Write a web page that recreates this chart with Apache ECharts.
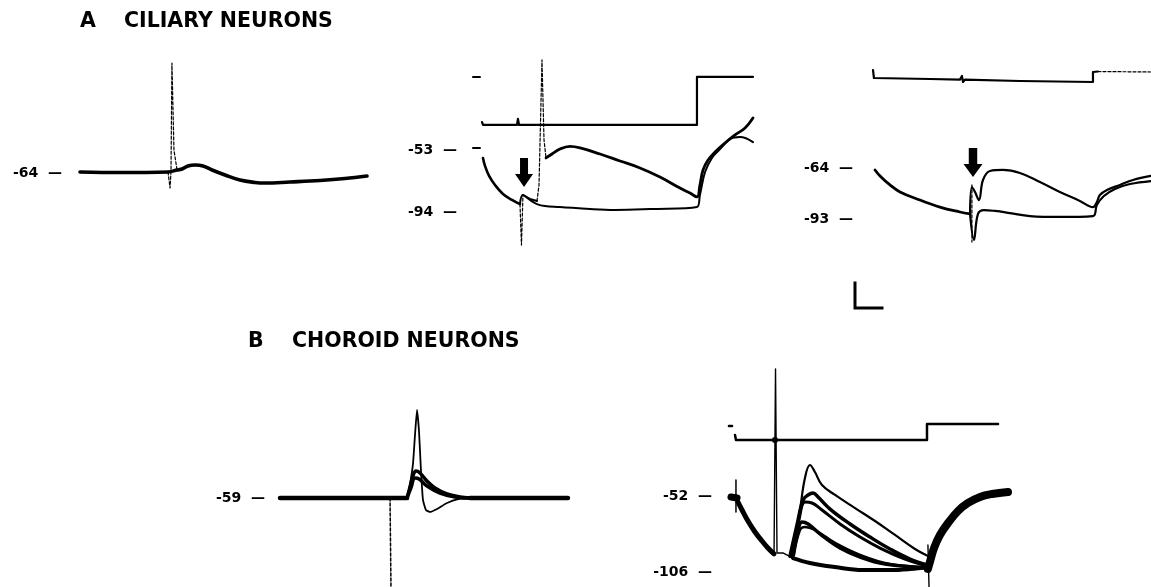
<!DOCTYPE html>
<html><head><meta charset="utf-8">
<script src="https://cdn.jsdelivr.net/npm/echarts@6/dist/echarts.min.js"></script>
<style>html,body{margin:0;padding:0;background:#fff}#c{width:1151px;height:587px}</style>
</head><body><div id="c"></div>
<script>
// ---- Titles and voltage labels ----
const titleTexts = ['A', 'CILIARY NEURONS', 'B', 'CHOROID NEURONS'];
const a1Ticks = [-64];
const a2Ticks = [-53, -94];
const a3Ticks = [-64, -93];
const b1Ticks = [-59];
const b2Ticks = [-52, -106];

// ---- A1 ciliary neuron (ms, mV) ----
const a1Trace = [[0,-63.3],[29.6,-63.7],[65.2,-63.3],[71.9,-62.0],[75.6,-61.3],[80.0,-59.3],[85.2,-58.7],[91.1,-59.3],[97.8,-62.0],[107.4,-65.3],[118.5,-68.7],[129.6,-70.3],[137.0,-70.7],[155.6,-70.0],[177.8,-69.0],[196.3,-67.7],[212.6,-66.0]];
const a1Spike = [[65.2,-63.3],[66.7,-74.0],[67.4,-63.3],[68.1,9.3],[69.6,-48.7],[71.9,-62.0]];

// ---- A2 (ms, mV) and current (nA) ----
const a2MarkV = [[0,-51.4],[5.2,-51.4]];
const a2Early = [[7.4,-58.0],[8.9,-63.3],[11.9,-69.9],[16.3,-75.9],[22.2,-81.8],[28.9,-85.8],[34.8,-88.5]];
const a2Artifact = [[34.8,-88.5],[35.9,-115.6],[37.0,-82.5]];
const a2Sweep1 = [[34.8,-88.5],[37.0,-82.5],[42.2,-85.8],[47.4,-88.5],[53.3,-89.8],[64.4,-90.4],[86.7,-91.8],[105.2,-92.4],[131.1,-91.8],[165.9,-90.4],[168.1,-82.5],[171.9,-67.3],[177.0,-58.0],[183.0,-52.1],[190.4,-45.5],[197.8,-44.1],[207.4,-47.5]];
const a2Sweep2Pre = [[37.0,-82.5],[42.2,-85.1],[47.4,-86.5]];
const a2Spike = [[47.4,-86.5],[48.9,-75.9],[50.4,-19.7],[51.1,6.8],[52.6,-46.1],[54.1,-58.0]];
const a2Sweep2 = [[54.1,-58.0],[58.5,-55.4],[64.4,-52.1],[71.9,-50.4],[79.3,-51.4],[94.1,-55.4],[108.9,-60.0],[123.7,-64.6],[138.5,-70.6],[153.3,-77.9],[160.7,-81.2],[165.9,-83.8],[168.1,-75.9],[170.4,-66.0],[174.1,-59.4],[179.3,-54.1],[186.7,-48.1],[194.1,-42.8],[201.5,-38.2],[207.4,-31.6]];
const a2MarkI = [[0,0],[5.2,0]];
const a2Current = [[6.7,-0.94],[7.4,-1],[32.6,-1],[33.3,-0.875],[34.1,-1],[165.9,-1],[165.9,0],[207.4,0]];
const a2Arrow = [[37.8,-67.6]];

// ---- A3 (ms, mV) and current (nA) ----
const a3Decay = [[1.5,-64.9],[5.2,-68.3],[12.6,-73.4],[20.0,-77.4],[34.8,-82.0],[49.6,-86.0],[64.4,-88.8],[71.9,-89.9]];
const a3SweepA = [[71.9,-89.9],[73.3,-74.6],[75.6,-77.4],[78.5,-82.0],[81.5,-70.6],[86.7,-65.5],[96.3,-64.9],[108.9,-66.6],[123.7,-71.7],[138.5,-77.4],[153.3,-82.5],[163.0,-86.0],[165.9,-83.1],[168.1,-79.1],[173.3,-76.3],[183.0,-73.4],[192.6,-70.6],[205.9,-68.3]];
const a3Artifact = [[73.3,-73.4],[73.3,-105.9]];
const a3SweepB = [[71.9,-89.9],[74.8,-104.7],[77.8,-89.9],[82.2,-87.7],[90.4,-88.2],[101.5,-89.4],[116.3,-91.1],[138.5,-91.6],[163.0,-91.1],[165.9,-84.8],[171.1,-79.7],[179.3,-75.7],[190.4,-72.9],[205.9,-71.2]];
const a3Current = [[0,0.05],[0.7,-0.15],[42.2,-0.175],[64.4,-0.19],[65.9,-0.1],[66.7,-0.25],[68.1,-0.19],[108.9,-0.225],[163.0,-0.25],[163.0,0],[166.7,0.0125]];
const a3CurrentTail = [[166.7,0.0125],[205.9,0]];
const a3Arrow = [[74.1,-60.7]];

// ---- B1 choroid neuron (ms, mV) ----
const b1BaseBefore = [[0,-59],[81.5,-59],[94.1,-59]];
const b1BaseAfter = [[140.7,-59],[213.3,-59]];
const b1Artifact = [[81.5,-59],[82.2,-118]];
const b1Sub1 = [[94.1,-59],[96.3,-51.7],[98.5,-44.3],[100.7,-41],[103.7,-42.3],[108.9,-47.7],[114.8,-52.3],[123.7,-56.3],[133.3,-58.3],[140.7,-59]];
const b1Sub2 = [[94.1,-59],[97.0,-52.3],[100.0,-45.7],[103.0,-46.3],[108.9,-51.0],[118.5,-55.7],[129.6,-58.3],[140.7,-59]];
const b1Spike = [[94.1,-59],[96.3,-49.7],[98.5,-36.3],[100.0,-17],[101.5,-0.3],[103.0,-15],[104.4,-40.3],[105.9,-60.3],[108.1,-67],[111.1,-68.3],[116.3,-66.3],[123.7,-62.3],[131.9,-59.7],[140.7,-59]];

// ---- B2 (ms, mV) and current (nA) ----
const b2MarkV = [[2.2,-52.3],[6.7,-53.0]];
const b2MarkTick = [[5.9,-40.3],[5.9,-63.0]];
const b2Decay = [[7.4,-55.9],[10.4,-61.6],[14.8,-69.4],[20.0,-77.2],[25.2,-83.6],[29.6,-88.6],[34.1,-92.8]];
const b2Artifact = [[34.1,-92.8],[35.2,38.6],[36.3,-92.1],[40.7,-92.1],[48.1,-95.7]];
const b2Floor = [[48.1,-95.7],[60.7,-99.2],[79.3,-102.1],[100.0,-104.2],[120.0,-104.2],[134.8,-103.5],[148.1,-102.1]];
const b2T1 = [[45.9,-95.0],[49.6,-82.9],[53.3,-61.6],[57.0,-38.8],[60.7,-29.6],[64.4,-34.6],[69.6,-43.8],[79.3,-50.9],[94.1,-60.2],[108.9,-69.4],[123.7,-79.3],[138.5,-89.3],[148.1,-94.3]];
const b2T2 = [[45.9,-94.3],[51.1,-72.2],[55.6,-54.5],[59.3,-50.9],[63.0,-49.5],[66.7,-52.3],[75.6,-60.9],[90.4,-71.5],[105.2,-80.8],[120.0,-89.3],[134.8,-96.4],[148.1,-100.7]];
const b2T3 = [[47.4,-94.3],[52.6,-68.7],[57.0,-55.9],[62.2,-56.6],[69.6,-61.6],[83.0,-71.5],[97.8,-80.8],[112.6,-88.6],[131.1,-96.4],[148.1,-101.4]];
const b2T4 = [[48.1,-94.3],[51.9,-75.8],[54.8,-70.1],[59.3,-71.5],[68.1,-78.6],[83.0,-88.6],[97.8,-95.0],[116.3,-100.0],[148.1,-102.8]];
const b2T5 = [[48.9,-93.5],[53.3,-75.8],[57.0,-73.7],[64.4,-75.8],[79.3,-85.0],[97.8,-93.5],[120.0,-100.0],[148.1,-102.1]];
const b2Recovery = [[148.1,-103.5],[149.6,-98.5],[152.6,-88.6],[157.0,-79.3],[163.0,-70.8],[170.4,-62.3],[177.8,-56.6],[186.7,-52.3],[195.6,-50.2],[207.4,-48.8]];
const b2EndArtifact = [[148.1,-86.4],[148.9,-116]];
const b2MarkI = [[0.7,-0.125],[3.0,-0.125]];
const b2Current = [[5.2,-0.69],[5.9,-1],[147.4,-1],[147.4,0],[200,0]];
const b2CurrentBlob = [[34.8,-1]];

// ---- calibration bar (ms, mV) ----
const scaleBar = [[0,20],[0,0],[20,0]];

// ---------------------------------------------------------------
const FONT = 'DejaVu Sans';
const PXMS = 1.35;
function grid(left, top, msMax, height) { return { left: left, top: top, width: msMax * PXMS, height: height }; }
const grids = [
  grid(80, 50, 215, 150),            // A1
  grid(473, 40, 213, 152 * 1.5122),  // A2
  grid(873, 40, 206, 131 * 1.7586),  // A3
  grid(280, 390, 215, 131 * 1.5),    // B1
  grid(728, 360, 209, 161 * 1.4074), // B2
  { left: 855, top: 283, width: 27, height: 25 } // bar
];
const xMax = [215, 213, 206, 215, 209, 20];
const xAxes = xMax.map((m, i) => ({ type: 'value', gridIndex: i, min: 0, max: m, show: false }));

function vAxis(g, min, max, ticks, margin) {
  return {
    type: 'value', gridIndex: g, min: min, max: max, position: 'left',
    axisLine: { show: false }, axisTick: { show: false }, splitLine: { show: false },
    axisLabel: {
      customValues: ticks, margin: margin, color: '#000',
      fontFamily: FONT, fontWeight: 'bold', fontSize: 14,
      formatter: v => v + '  \u2014'
    }
  };
}
function hidden(g, min, max) { return { type: 'value', gridIndex: g, min: min, max: max, show: false, position: 'right' }; }
const yAxes = [
  vAxis(0, -82, 18, a1Ticks, 18),   // 0
  vAxis(1, -132, 20, a2Ticks, 16),  // 1
  hidden(1, -4.02, 0.77),           // 2 A2 current
  vAxis(2, -122, 9, a3Ticks, 20),   // 3
  hidden(2, -4.96, 0.8),            // 4 A3 current
  vAxis(3, -118, 13, b1Ticks, 15),  // 5
  vAxis(4, -116, 45, b2Ticks, 16),  // 6
  hidden(4, -10.16, 4),             // 7 B2 current
  hidden(5, 0, 20)                  // 8 bar
];

function L(xi, yi, data, w, extra) {
  return Object.assign({
    type: 'line', xAxisIndex: xi, yAxisIndex: yi, data: data,
    showSymbol: false, symbol: 'none', clip: false, silent: true, animation: false,
    lineStyle: { color: '#000', width: w, cap: 'round', join: 'round', opacity: 1 }
  }, extra || {});
}
const smooth = { smooth: 0.4 };
const dashed = (xi, yi, d, w) => { const s = L(xi, yi, d, w); s.lineStyle.type = [3, 2]; return s; };

const arrowPath = 'path://M5,0L13,0L13,16L18,16L9,29L0,16L5,16Z';
function arrow(xi, yi, d, size) {
  return { type: 'scatter', xAxisIndex: xi, yAxisIndex: yi, data: d, symbol: arrowPath, symbolSize: size,
    itemStyle: { color: '#000', opacity: 1 }, silent: true, animation: false, clip: false, z: 5 };
}

const series = [
  // A1
  L(0, 0, a1Trace, 3.6, smooth),
  dashed(0, 0, a1Spike, 1.2),
  // A2
  L(1, 1, a2MarkV, 2),
  L(1, 1, a2Early, 2.6, smooth),
  dashed(1, 1, a2Artifact, 1.2),
  L(1, 1, a2Sweep1, 2, smooth),
  L(1, 1, a2Sweep2Pre, 2),
  dashed(1, 1, a2Spike, 1.2),
  L(1, 1, a2Sweep2, 2.8, smooth),
  L(1, 2, a2MarkI, 2),
  L(1, 2, a2Current, 2.2),
  arrow(1, 1, a2Arrow, [18, 29]),
  // A3
  L(2, 3, a3Decay, 2.8, smooth),
  L(2, 3, a3SweepA, 2.2, smooth),
  dashed(2, 3, a3Artifact, 1.2),
  L(2, 3, a3SweepB, 2.2, smooth),
  L(2, 4, a3Current, 2.2),
  dashed(2, 4, a3CurrentTail, 1.2),
  arrow(2, 3, a3Arrow, [19, 29]),
  // B1
  L(3, 5, b1BaseBefore, 4.5),
  L(3, 5, b1BaseAfter, 4.5),
  dashed(3, 5, b1Artifact, 1.5),
  L(3, 5, b1Sub1, 3.5, smooth),
  L(3, 5, b1Sub2, 3.5, smooth),
  L(3, 5, b1Spike, 1.8, { smooth: 0.15 }),
  // B2
  L(4, 6, b2MarkV, 7),
  L(4, 6, b2MarkTick, 1.5),
  L(4, 6, b2Decay, 5, smooth),
  L(4, 6, b2Artifact, 1.4),
  L(4, 6, b2Floor, 4, smooth),
  L(4, 6, b2T1, 2.2, smooth),
  L(4, 6, b2T2, 3.5, smooth),
  L(4, 6, b2T3, 3, smooth),
  L(4, 6, b2T4, 3.5, smooth),
  L(4, 6, b2T5, 2.5, smooth),
  L(4, 6, b2Recovery, 8, smooth),
  L(4, 6, b2EndArtifact, 1.4),
  L(4, 7, b2MarkI, 2.5),
  L(4, 7, b2Current, 2.5),
  { type: 'scatter', xAxisIndex: 4, yAxisIndex: 7, data: b2CurrentBlob, symbol: 'circle', symbolSize: 6,
    itemStyle: { color: '#000', opacity: 1 }, silent: true, animation: false },
  // calibration bar
  L(5, 8, scaleBar, 3, { lineStyle: { color: '#000', width: 3, cap: 'square', join: 'miter' } })
];

const tStyle = { fontFamily: FONT, fontWeight: 'bold', fontSize: 20.5, color: '#000' };
const option = {
  backgroundColor: '#fff',
  animation: false,
  title: [
    { text: titleTexts[0], left: 80, top: 11, textStyle: tStyle, padding: 0 },
    { text: titleTexts[1], left: 124, top: 11, textStyle: tStyle, padding: 0 },
    { text: titleTexts[2], left: 248, top: 331, textStyle: tStyle, padding: 0 },
    { text: titleTexts[3], left: 292, top: 331, textStyle: tStyle, padding: 0 }
  ],
  grid: grids,
  xAxis: xAxes,
  yAxis: yAxes,
  series: series
};
const chart = echarts.init(document.getElementById('c'), null, { renderer: 'canvas' });
chart.setOption(option);
</script></body></html>
